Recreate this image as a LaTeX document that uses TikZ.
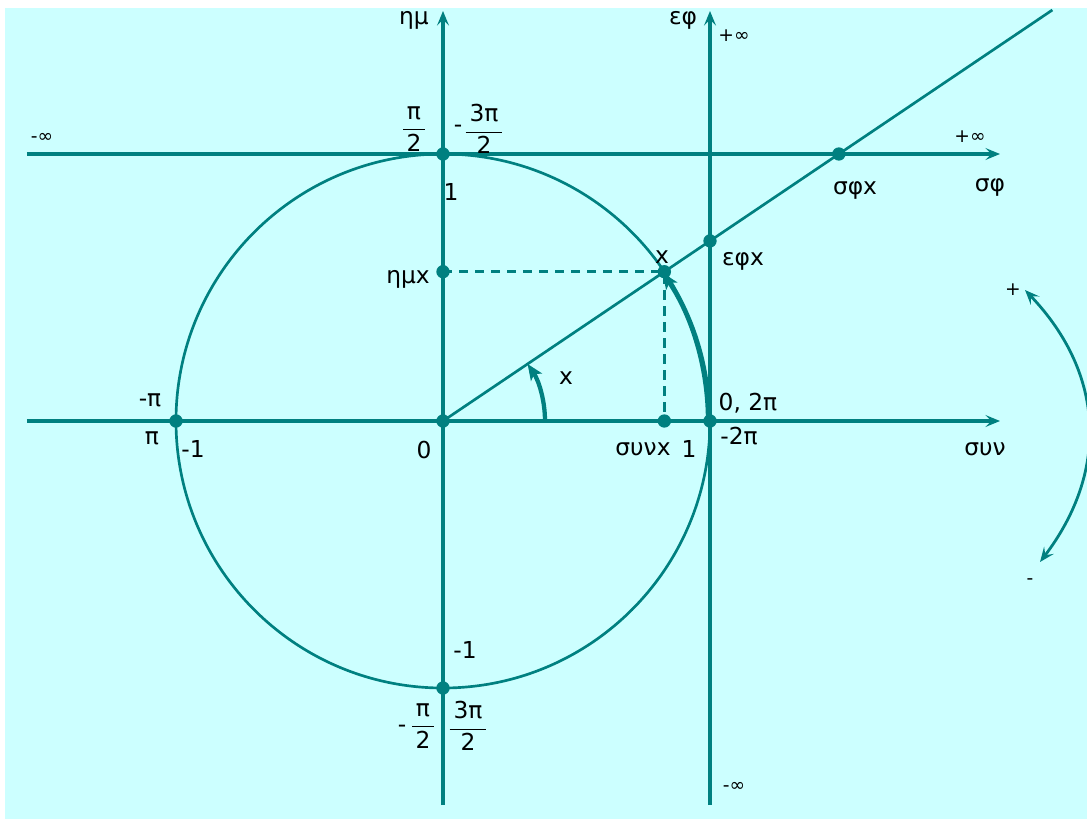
\documentclass[tikz,border=0pt]{standalone}
\usepackage{fontspec}
\setmainfont{DejaVu Sans}
\usetikzlibrary{arrows.meta}
\definecolor{trigTeal}{RGB}{0,128,128}
\definecolor{trigBack}{RGB}{204,255,255}
\newcommand{\trigR}{267}
\newcommand{\trigA}{34}
\newcommand{\fr}[2]{$\displaystyle\frac{\mbox{\,#1\,}}{\mbox{#2}}$}
\tikzset{
  axisline/.style={
    draw=trigTeal, line width=2.3pt,
    -{Stealth[length=11pt,width=9pt,inset=4.5pt]}
  },
  thinline/.style={draw=trigTeal, line width=2pt},
  dashline/.style={draw=trigTeal, line width=2.1pt, dash pattern=on 7pt off 5pt},
  thickarr/.style={
    draw=trigTeal, line width=3.2pt,
    -{Stealth[length=12pt,width=10pt,inset=3pt]}
  },
  bothway/.style={
    draw=trigTeal, line width=2.1pt,
    {Stealth[length=11pt,width=9pt,inset=4.5pt]}-{Stealth[length=11pt,width=9pt,inset=4.5pt]}
  },
  dot/.style={circle, fill=trigTeal, inner sep=0pt, minimum size=10pt},
  lbl/.style={font=\fontsize{17.5}{20}\selectfont, text=black, inner sep=0pt},
  smalllbl/.style={font=\fontsize{14}{16}\selectfont, text=black, inner sep=0pt},
}
\begin{document}
\begin{tikzpicture}[x=0.75pt, y=0.75pt]

  % Frame
  \useasboundingbox (-443,-398) rectangle (644,421);
  \fill[trigBack] (-438,-398) rectangle (644,413);

  % Axis end points
  \coordinate (xl) at (-416,0);
  \coordinate (xr) at (557,0);
  \coordinate (sb) at (0,-384);
  \coordinate (st) at (0,410);
  \coordinate (tb) at (\trigR,-384);
  \coordinate (tt) at (\trigR,410);
  \coordinate (cl) at (-416,\trigR);
  \coordinate (cr) at (557,\trigR);
  \coordinate (ray) at (\trigA:735);
  \coordinate (pl) at (582,131);
  \coordinate (mi) at (597,-141);

  % Circle
  \draw[thinline] (0,0) circle[radius=\trigR];

  % Axes
  \draw[axisline] (xl) -- (xr);
  \draw[axisline] (sb) -- (st);
  \draw[axisline] (tb) -- (tt);
  \draw[axisline] (cl) -- (cr);

  % Points
  \node[dot] (O)    at (0,0) {};
  \node[dot] (top)  at (90:\trigR) {};
  \node[dot] (bot)  at (-90:\trigR) {};
  \node[dot] (lft)  at (180:\trigR) {};
  \node[dot] (rgt)  at (0:\trigR) {};
  \node[dot] (P)    at (\trigA:\trigR) {};
  \node[dot] (sinx) at (0,{\trigR*sin(\trigA)}) {};
  \node[dot] (cosx) at ({\trigR*cos(\trigA)},0) {};
  \node[dot] (tanx) at (\trigR,{\trigR*tan(\trigA)}) {};
  \node[dot] (cotx) at ({\trigR/tan(\trigA)},\trigR) {};

  % Ray and projections
  \draw[thinline] (O.center) -- (ray);
  \draw[dashline] (sinx.center) -- (P.center) -- (cosx.center);

  % Angle arrows
  \draw[thickarr] (0:102) arc[start angle=0, end angle=\trigA, radius=102];
  \draw[thickarr] (0:265) arc[start angle=0, end angle=\trigA, radius=265];
  \draw[bothway] (pl) .. controls (664,45) and (664,-53) .. (mi);

  % Axis names
  \node[lbl] (lsin) at (-29,401) {ημ};
  \node[lbl] (ltan) at (240,401) {εφ};
  \node[lbl] (lcot) at (547,234) {σφ};
  \node[lbl] (lcos) at (542,-28) {συν};

  % Infinities
  \node[smalllbl] (tp) at (291,385) {+∞};
  \node[smalllbl] (tm) at (291,-366) {-∞};
  \node[smalllbl] (cm) at (-401,283) {-∞};
  \node[smalllbl] (cp) at (527,284) {+∞};

  % Values on the circle
  \node[lbl] (ftop) at (-29,292) {\fr{π}{2}};
  \node[lbl] (mtop) at (15,292) {-};
  \node[lbl] (gtop) at (41,292) {\fr{3π}{2}};
  \node[lbl] (one)  at (8,229) {1};
  \node[lbl] (mone) at (22,-229) {-1};
  \node[lbl] (mbot) at (-41,-308) {-};
  \node[lbl] (fbot) at (-20,-305) {\fr{π}{2}};
  \node[lbl] (gbot) at (25,-305) {\fr{3π}{2}};
  \node[lbl] (mpi)  at (-293,21) {-π};
  \node[lbl] (ppi)  at (-291,-17) {π};
  \node[lbl] (lm1)  at (-250,-28) {-1};
  \node[lbl] (zero) at (-19,-29) {0};
  \node[lbl] (rone) at (246,-28) {1};
  \node[lbl] (two)  at (305,18) {0, 2π};
  \node[lbl] (mtwo) at (296,-15) {-2π};

  % Values of x
  \node[lbl] (lx)    at (219,164) {x};
  \node[lbl] (lang)  at (123,43) {x};
  \node[lbl] (lsinx) at (-35,142) {ημx};
  \node[lbl] (lcosx) at (200,-28) {συνx};
  \node[lbl] (ltanx) at (300,160) {εφx};
  \node[lbl] (lcotx) at (412,231) {σφx};

  % Direction signs
  \node[smalllbl] (plus)  at (570,131) {+};
  \node[smalllbl] (minus) at (587,-161) {-};
\end{tikzpicture}
\end{document}
